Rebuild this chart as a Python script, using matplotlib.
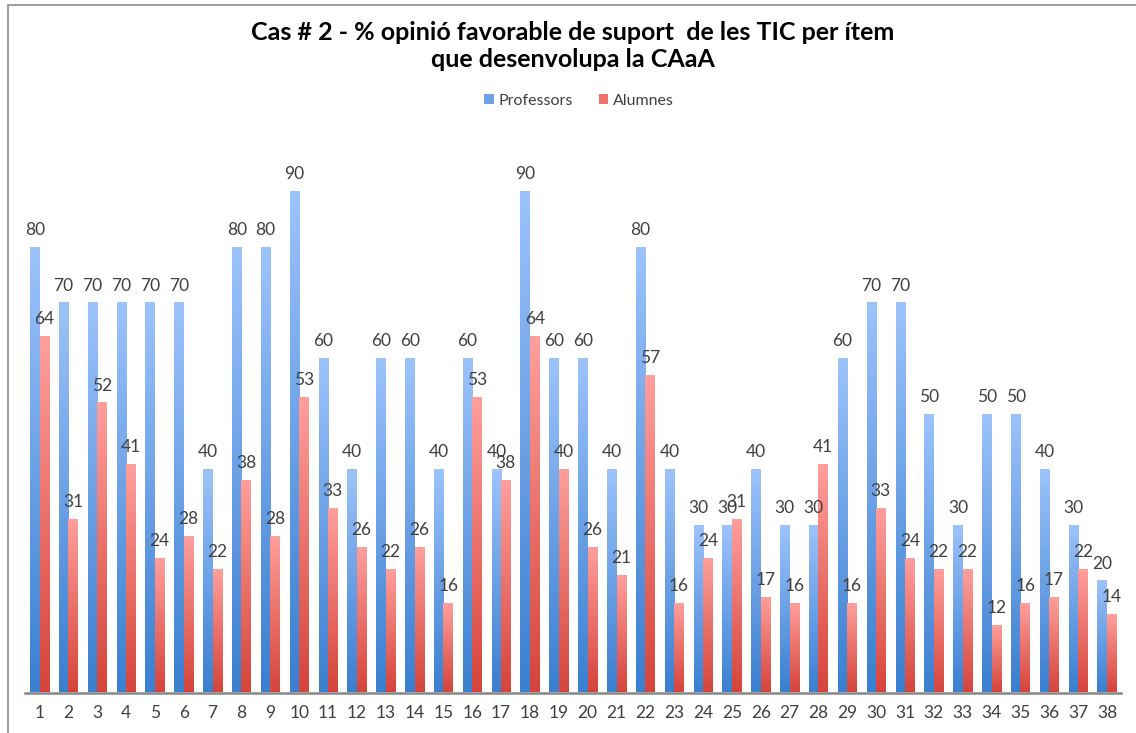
import matplotlib
matplotlib.use("Agg")
import matplotlib.pyplot as plt
import numpy as np
from matplotlib.colors import LinearSegmentedColormap
from matplotlib.patches import Rectangle, Patch

categories = [str(i) for i in range(1, 39)]
professors = [80, 70, 70, 70, 70, 70, 40, 80, 80, 90, 60, 40, 60, 60, 40, 60, 40, 90, 60, 60,
              40, 80, 40, 30, 30, 40, 30, 30, 60, 70, 70, 50, 30, 50, 50, 40, 30, 20]
alumnes = [64, 31, 52, 41, 24, 28, 22, 38, 28, 53, 33, 26, 22, 26, 16, 53, 38, 64, 40, 26,
           21, 57, 16, 24, 31, 17, 16, 41, 16, 33, 24, 22, 22, 12, 16, 17, 22, 14]
series_names = ["Professors", "Alumnes"]
title = "Cas # 2 - % opinió favorable de suport  de les TIC per ítem\nque desenvolupa la CAaA"

plt.rcParams['font.family'] = ['Lato', 'DejaVu Sans']

fig = plt.figure(figsize=(11.36, 7.33), dpi=100)
fig.patch.set_facecolor('white')
# chart border
fig.add_artist(Rectangle((8/1136, -0.01), 1.2, 1 - 5/733 + 0.01, transform=fig.transFigure,
                         fill=False, edgecolor='#8c8c8c', linewidth=1.2))

ax = fig.add_axes([25.1/1136, 40.5/733, 1096.3/1136, 556/733])
x = np.arange(1, 39)
w = 0.33

cmap_b = LinearSegmentedColormap.from_list('b', ['#3a7fd0', '#9dc3fb'])
cmap_r = LinearSegmentedColormap.from_list('r', ['#d5443a', '#ff9f9c'])
grad = np.linspace(0, 1, 256).reshape(-1, 1)

bars_b = ax.bar(x - w/2, professors, w, color='none', edgecolor='none')
bars_r = ax.bar(x + w/2, alumnes, w, color='none', edgecolor='none')

for bars, cmap in ((bars_b, cmap_b), (bars_r, cmap_r)):
    for b in bars:
        x0, h, bw = b.get_x(), b.get_height(), b.get_width()
        ax.imshow(grad, extent=[x0, x0 + bw, 0, h], origin='lower', aspect='auto',
                  cmap=cmap, zorder=2)

for bars, vals in ((bars_b, professors), (bars_r, alumnes)):
    for b, v in zip(bars, vals):
        ax.annotate(str(v), (b.get_x() + b.get_width()/2, v), xytext=(0, 7),
                    textcoords='offset points', ha='center', va='bottom',
                    fontsize=12.5, color='#404040', zorder=3)

ax.set_xlim(0.5, 38.5)
ax.set_ylim(0, 100)
ax.set_xticks(x)
ax.set_xticklabels(categories, fontsize=12.5, color='#404040')
ax.tick_params(axis='x', length=0, pad=9)
ax.set_yticks([])
for s in ['top', 'right', 'left']:
    ax.spines[s].set_visible(False)
ax.spines['bottom'].set_color('#868686')
ax.spines['bottom'].set_linewidth(1.8)
ax.spines['bottom'].set_zorder(4)

fig.text(573/1136, 1 - 46/733, title, ha='center', va='center', fontsize=18,
         fontweight='bold', color='black', linespacing=1.2)

handles = [Patch(facecolor='#6ea3e8', edgecolor='none'), Patch(facecolor='#ee726b', edgecolor='none')]
fig.legend(handles, series_names, loc='center', bbox_to_anchor=(579/1136, 1 - 101/733),
           ncol=2, frameon=False, fontsize=11.5, labelcolor='#404040',
           handlelength=0.6, handleheight=0.6, handletextpad=0.3, columnspacing=1.6)

fig.savefig('out.png', dpi=100, facecolor='white')
